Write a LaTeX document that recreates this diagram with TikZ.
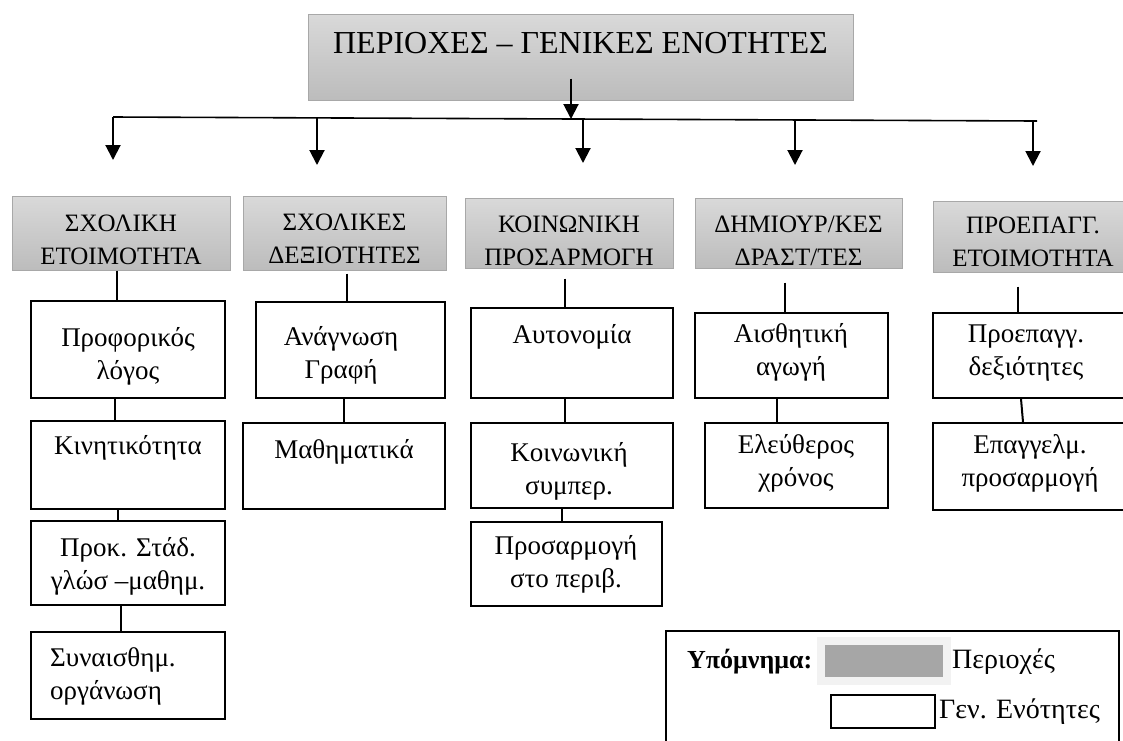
\documentclass[tikz,border=0pt]{standalone}
\usepackage{fontspec}
\setmainfont{Liberation Serif}
\usetikzlibrary{arrows.meta}

\definecolor{areatop}{HTML}{D9D9D9}
\definecolor{areabot}{HTML}{BCBCBC}
\definecolor{areaedge}{HTML}{A8A8A8}
\definecolor{swatch}{HTML}{A6A6A6}
\definecolor{halo}{HTML}{F2F2F2}

\begin{document}
\begin{tikzpicture}[x=1pt,y=-1pt,
  area/.style={rectangle, draw=areaedge, line width=1pt,
    top color=areatop, bottom color=areabot, inner sep=0pt},
  unit/.style={rectangle, draw=black, line width=1.8pt, fill=white, inner sep=0pt},
  titletext/.style={font=\fontsize{32}{38}\selectfont, inner sep=0pt},
  areatext/.style={font=\fontsize{25}{33}\selectfont, align=center, inner sep=0pt},
  unittext/.style={font=\fontsize{27}{33}\selectfont, align=center, inner sep=0pt},
  keytext/.style={font=\fontsize{28}{33}\selectfont, inner sep=0pt, anchor=west},
  link/.style={line width=2pt},
  bar/.style={line width=1.6pt},
  drop/.style={line width=2pt, -{Triangle[width=15pt,length=15pt]}}]

\clip (0,0) rectangle (1123,740);
\fill[white] (0,0) rectangle (1123,740);

% ---- title and distribution bar ----
\node[area, minimum width=545pt, minimum height=86pt] (top) at (580.5,57) {};
\node[titletext] (toptext) at (580.5,43) {ΠΕΡΙΟΧΕΣ – ΓΕΝΙΚΕΣ ΕΝΟΤΗΤΕΣ};

\coordinate (barL) at (113,117);
\coordinate (barR) at (1037,121);
\coordinate (hub) at (571,119);
\draw[bar] (barL) -- (barR);
\draw[drop] ([xshift=-9.5pt,yshift=22pt]top.south) -- (hub);

\foreach \i/\x/\ya/\yb in {1/113/117/160, 2/317/118/165, 3/583/119/163,
                           4/795/120/165, 5/1033/121/166} {
  \coordinate (s\i) at (\x,\ya);
  \coordinate (e\i) at (\x,\yb);
  \draw[drop] (s\i) -- (e\i);
}

% ---- areas ----
\node[area, minimum width=218pt, minimum height=74pt] (h1) at (121,233) {};
\node[area, minimum width=203pt, minimum height=74pt] (h2) at (344.5,233) {};
\node[area, minimum width=208pt, minimum height=70pt] (h3) at (569,233) {};
\node[area, minimum width=207pt, minimum height=70pt] (h4) at (798.5,233) {};
\node[area, minimum width=202pt, minimum height=71pt] (h5) at (1034,236.5) {};

\node[areatext] (h1t) at (121,239.5) {ΣΧΟΛΙΚΗ\\ΕΤΟΙΜΟΤΗΤΑ};
\node[areatext] (h2t) at (344.5,239) {ΣΧΟΛΙΚΕΣ\\ΔΕΞΙΟΤΗΤΕΣ};
% the second lines of these two areas are cut by their text frame
\begin{scope}
  \clip (h3.north west) rectangle ([yshift=2.5pt]h4.south east);
  \node[areatext] (h3t) at (569,241) {ΚΟΙΝΩΝΙΚΗ\\ΠΡΟΣΑΡΜΟΓΗ};
  \node[areatext] (h4t) at (798.5,241) {ΔΗΜΙΟΥΡ/ΚΕΣ\\ΔΡΑΣΤ/ΤΕΣ};
\end{scope}
\node[areatext] (h5t) at (1033,242) {ΠΡΟΕΠΑΓΓ.\\ΕΤΟΙΜΟΤΗΤΑ};

% ---- general units ----
\node[unit, minimum width=194pt, minimum height=97pt] (b11) at (128,349.5) {};
\node[unit, minimum width=194pt, minimum height=88pt] (b12) at (128,465) {};
\node[unit, minimum width=194pt, minimum height=84pt] (b13) at (128,563) {};
\node[unit, minimum width=194pt, minimum height=87pt] (b14) at (128,675.5) {};

\node[unit, minimum width=189pt, minimum height=96pt] (b21) at (350.5,350) {};
\node[unit, minimum width=202pt, minimum height=86pt] (b22) at (344,466) {};

\node[unit, minimum width=202pt, minimum height=90pt] (b31) at (572,353) {};
\node[unit, minimum width=202pt, minimum height=85pt] (b32) at (572,465.5) {};
\node[unit, minimum width=191pt, minimum height=84pt] (b33) at (566.5,564) {};

\node[unit, minimum width=193pt, minimum height=85pt] (b41) at (791.5,355.5) {};
\node[unit, minimum width=183pt, minimum height=85pt] (b42) at (796.5,465.5) {};

\node[unit, minimum width=202pt, minimum height=85pt] (b51) at (1034,355.5) {};
\node[unit, minimum width=202pt, minimum height=87pt] (b52) at (1034,466.5) {};

\node[unittext] (b11t) at (128,356.5) {Προφορικός\\λόγος};
\node[unittext] (b12t) at (128,448) {Κινητικότητα};
\node[unittext] (b13t) at (128,566) {Προκ. Στάδ.\\γλώσ –μαθημ.};
\node[unittext, align=left, anchor=west] (b14t) at (50,676) {Συναισθημ.\\οργάνωση};
\node[unittext] (b21t) at (341,355.5) {Ανάγνωση\\Γραφή};
\node[unittext] (b22t) at (344,452) {Μαθηματικά};
\node[unittext] (b31t) at (572,337) {Αυτονομία};
\node[unittext] (b32t) at (569,471) {Κοινωνική\\συμπερ.};
\node[unittext] (b33t) at (566,564) {Προσαρμογή\\στο περιβ.};
\node[unittext] (b41t) at (791,352.5) {Αισθητική\\αγωγή};
\node[unittext] (b42t) at (796,463.5) {Ελεύθερος\\χρόνος};
\node[unittext] (b51t) at (1026,353.5) {Προεπαγγ.\\δεξιότητες};
\node[unittext] (b52t) at (1030,463.5) {Επαγγελμ.\\προσαρμογή};

% ---- links between areas and units ----
\draw[link] ([xshift=-4pt]h1.south) -- ([xshift=-11pt]b11.north);
\draw[link] ([xshift=2.5pt,yshift=-3pt]h2.south) -- ([xshift=-3.5pt]b21.north);
\draw[link] ([xshift=-4pt,yshift=-10pt]h3.south) -- ([xshift=-7pt]b31.north);
\draw[link] ([xshift=-13.5pt,yshift=-14pt]h4.south) -- ([xshift=-6.5pt]b41.north);
\draw[link] ([xshift=-16pt,yshift=-14pt]h5.south) -- ([xshift=-16pt]b51.north);

\draw[link] ([xshift=-13pt]b11.south) -- ([xshift=-13pt]b12.north);
\draw[link] ([xshift=-10pt]b12.south) -- ([xshift=-10pt]b13.north);
\draw[link] ([xshift=-7pt]b13.south) -- ([xshift=-7pt]b14.north);
\draw[link] ([xshift=-6.5pt]b21.south) -- (b22.north);
\draw[link] ([xshift=-7pt]b31.south) -- ([xshift=-7pt]b32.north);
\draw[link] ([xshift=-10pt]b32.south) -- ([xshift=-4.5pt]b33.north);
\draw[link] ([xshift=-14.5pt]b41.south) -- ([xshift=-19.5pt]b42.north);
\draw[link] ([xshift=-13pt]b51.south) -- ([xshift=-11pt]b52.north);

% ---- key ----
\node[draw=black, line width=1.6pt, fill=white, inner sep=0pt, anchor=north west,
      minimum width=453pt, minimum height=150pt] (key) at (665,630) {};
\node[fill=halo, inner sep=0pt, minimum width=134pt, minimum height=48pt] (keyhalo) at (884,661) {};
\node[fill=swatch, inner sep=0pt, minimum width=118pt, minimum height=32pt] (keyarea) at (884,661) {};
\node[draw=black, line width=1.6pt, fill=white, inner sep=0pt,
      minimum width=104pt, minimum height=33pt] (keyunit) at (883,711.5) {};
\node[keytext, font=\fontsize{26}{33}\selectfont\bfseries] (keytitle) at (687,662) {Υπόμνημα:};
\node[keytext] (keyareat) at (952,662) {Περιοχές};
\node[keytext] (keyunitt) at (939,712) {Γεν. Ενότητες};
\end{tikzpicture}
\end{document}
